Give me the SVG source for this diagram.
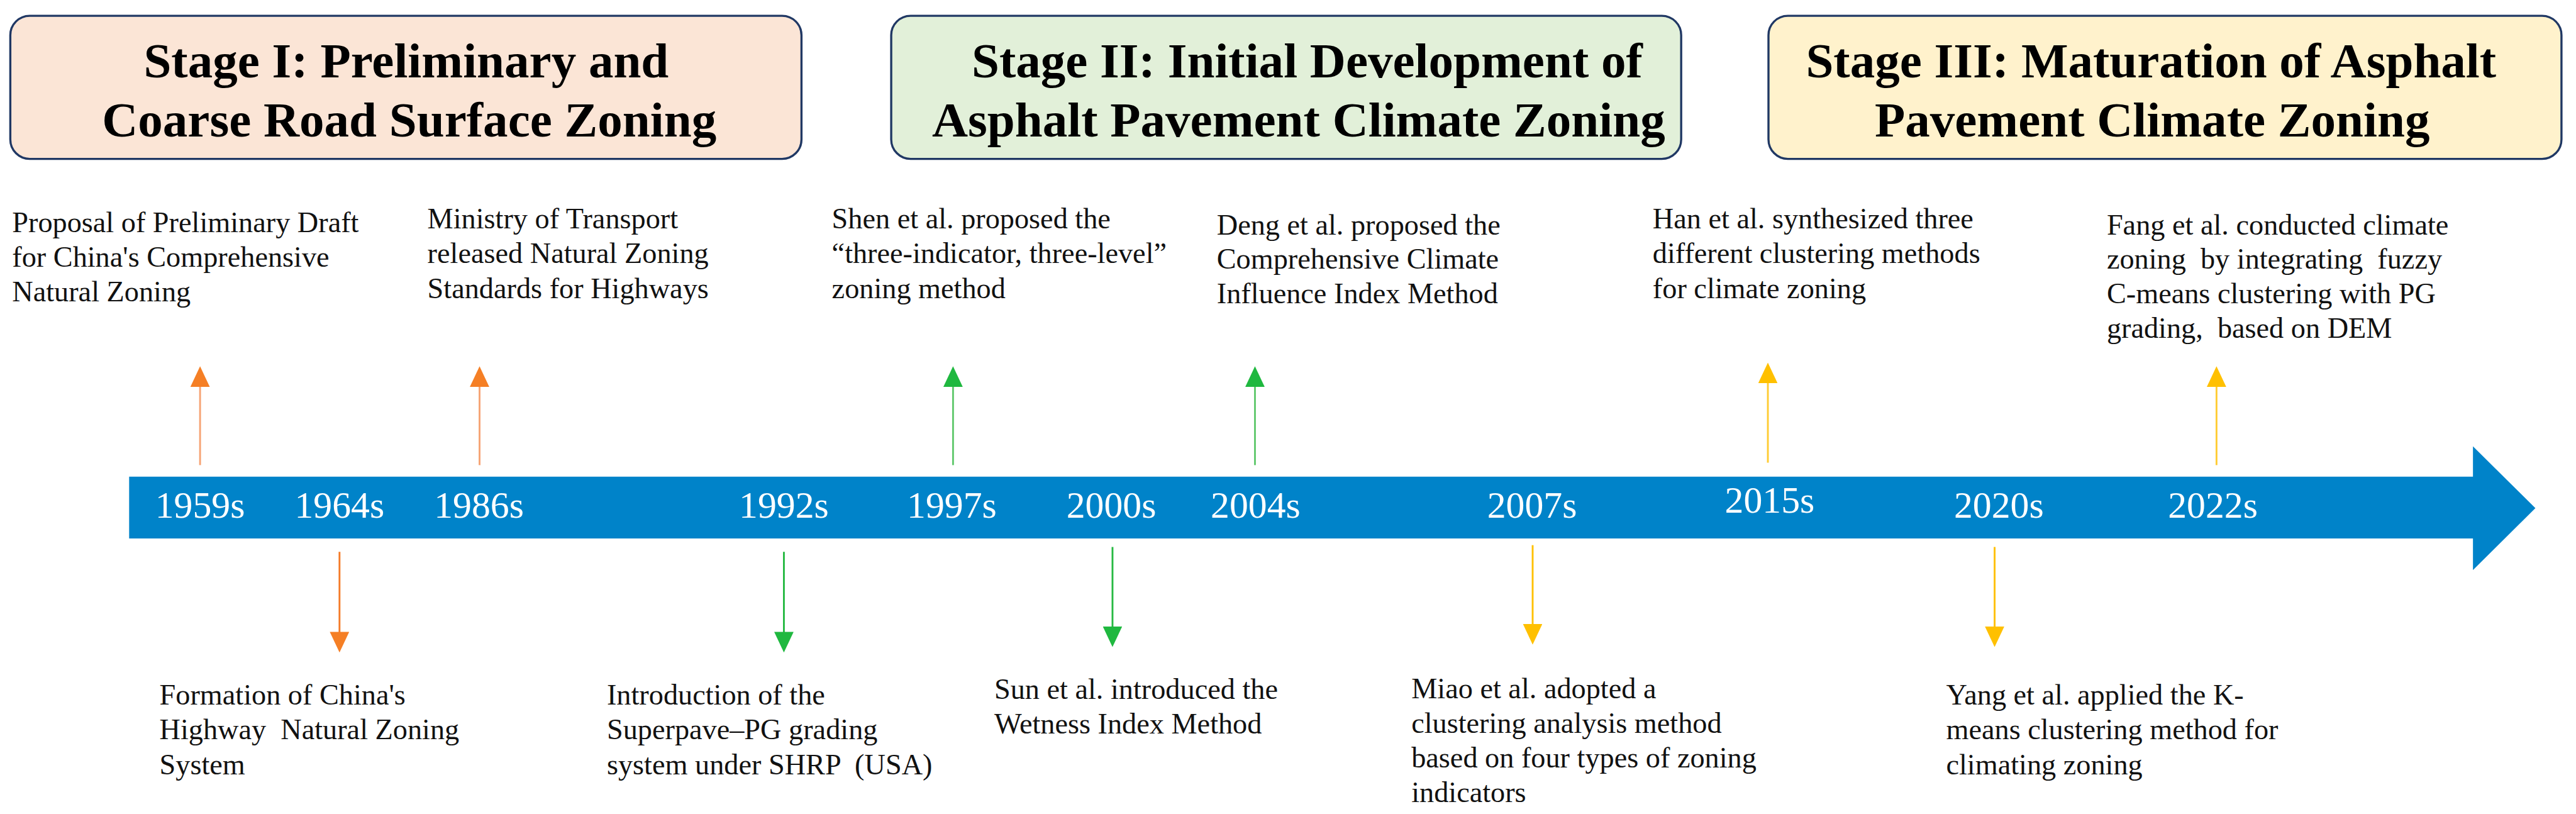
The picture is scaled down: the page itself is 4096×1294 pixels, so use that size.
<svg xmlns="http://www.w3.org/2000/svg" width="4096" height="1294" viewBox="0 0 4096 1294">
<style>
.stage{stroke:#203864;stroke-width:3.5}
.title{font-family:"Liberation Serif","Times New Roman",serif;font-weight:bold;font-size:82px;fill:#000;text-anchor:middle}
.year{font-family:"Liberation Serif","Times New Roman",serif;font-size:62px;fill:#fff;text-anchor:middle}
.ev{font-family:"Liberation Serif","Times New Roman",serif;font-size:48px;fill:#111;white-space:pre}
.lo{stroke:#F6A374;stroke-width:3;fill:none}
.lg{stroke:#62C96E;stroke-width:3;fill:none}
.ly{stroke:#FFCC33;stroke-width:3;fill:none}
.do{stroke:#F47B28;stroke-width:3;fill:none}
.dg{stroke:#27B943;stroke-width:3;fill:none}
.dy{stroke:#FFC000;stroke-width:3;fill:none}
</style>
<defs>
<marker id="hO" markerUnits="userSpaceOnUse" markerWidth="34" markerHeight="32" viewBox="0 0 34 32" refX="2" refY="16" orient="auto"><path d="M0,0 L34,16 L0,32 z" fill="#F57F25"/></marker>
<marker id="hG" markerUnits="userSpaceOnUse" markerWidth="34" markerHeight="32" viewBox="0 0 34 32" refX="2" refY="16" orient="auto"><path d="M0,0 L34,16 L0,32 z" fill="#1FB83F"/></marker>
<marker id="hY" markerUnits="userSpaceOnUse" markerWidth="34" markerHeight="32" viewBox="0 0 34 32" refX="2" refY="16" orient="auto"><path d="M0,0 L34,16 L0,32 z" fill="#FFC000"/></marker>
</defs>
<rect width="4096" height="1294" fill="#fff"/>
<g transform="scale(0.964)">
<g id="stage1">
<rect class="stage" x="17" y="26" width="1305" height="236" rx="32" fill="#FBE5D6"/>
<text class="title"><tspan x="670" y="128">Stage I: Preliminary and</tspan><tspan x="675" y="225">Coarse Road Surface Zoning</tspan></text>
</g>
<g id="stage2">
<rect class="stage" x="1470" y="26" width="1303" height="236" rx="32" fill="#E2F0D9"/>
<text class="title"><tspan x="2156" y="128">Stage II: Initial Development of</tspan><tspan x="2142" y="225">Asphalt Pavement Climate Zoning</tspan></text>
</g>
<g id="stage3">
<rect class="stage" x="2917" y="26" width="1308" height="236" rx="32" fill="#FFF2CC"/>
<text class="title"><tspan x="3548" y="128">Stage III: Maturation of Asphalt</tspan><tspan x="3550" y="225">Pavement Climate Zoning</tspan></text>
</g>
<g id="timeline">
<path d="M213,786 H4079 V736 L4182,838 L4079,940 V888 H213 Z" fill="#0083C9"/>
<text class="year" x="330" y="854">1959s</text>
<text class="year" x="560" y="854">1964s</text>
<text class="year" x="790" y="854">1986s</text>
<text class="year" x="1293" y="854">1992s</text>
<text class="year" x="1570" y="854">1997s</text>
<text class="year" x="1833" y="854">2000s</text>
<text class="year" x="2071" y="854">2004s</text>
<text class="year" x="2527" y="854">2007s</text>
<text class="year" x="2919" y="845">2015s</text>
<text class="year" x="3297" y="854">2020s</text>
<text class="year" x="3650" y="854">2022s</text>
</g>
<g id="connectors">
<line class="lo" x1="330" y1="767" x2="330" y2="636" marker-end="url(#hO)"/>
<line class="lo" x1="791" y1="767" x2="791" y2="636" marker-end="url(#hO)"/>
<line class="lg" x1="1572" y1="767" x2="1572" y2="636" marker-end="url(#hG)"/>
<line class="lg" x1="2070" y1="767" x2="2070" y2="636" marker-end="url(#hG)"/>
<line class="ly" x1="2916" y1="763" x2="2916" y2="630" marker-end="url(#hY)"/>
<line class="ly" x1="3656" y1="767" x2="3656" y2="636" marker-end="url(#hY)"/>
<line class="do" x1="560" y1="910" x2="560" y2="1044" marker-end="url(#hO)"/>
<line class="dg" x1="1293" y1="910" x2="1293" y2="1044" marker-end="url(#hG)"/>
<line class="dg" x1="1835" y1="902" x2="1835" y2="1035" marker-end="url(#hG)"/>
<line class="dy" x1="2528" y1="899" x2="2528" y2="1031" marker-end="url(#hY)"/>
<line class="dy" x1="3290" y1="902" x2="3290" y2="1035" marker-end="url(#hY)"/>
</g>
<g id="ev1959"><text class="ev"><tspan x="20" y="383">Proposal of Preliminary Draft</tspan><tspan x="20" y="440">for China's Comprehensive</tspan><tspan x="20" y="497">Natural Zoning</tspan></text></g>
<g id="ev1986"><text class="ev"><tspan x="705" y="377">Ministry of Transport</tspan><tspan x="705" y="434">released Natural Zoning</tspan><tspan x="705" y="492">Standards for Highways</tspan></text></g>
<g id="ev1997"><text class="ev"><tspan x="1372" y="377">Shen et al. proposed the</tspan><tspan x="1372" y="434">“three-indicator, three-level”</tspan><tspan x="1372" y="492">zoning method</tspan></text></g>
<g id="ev2004"><text class="ev"><tspan x="2007" y="387">Deng et al. proposed the</tspan><tspan x="2007" y="443">Comprehensive Climate</tspan><tspan x="2007" y="500">Influence Index Method</tspan></text></g>
<g id="ev2015"><text class="ev"><tspan x="2726" y="377">Han et al. synthesized three</tspan><tspan x="2726" y="434">different clustering methods</tspan><tspan x="2726" y="492">for climate zoning</tspan></text></g>
<g id="ev2022"><text class="ev"><tspan x="3475" y="387">Fang et al. conducted climate</tspan><tspan x="3475" y="443">zoning  by integrating  fuzzy</tspan><tspan x="3475" y="500">C-means clustering with PG</tspan><tspan x="3475" y="557">grading,  based on DEM</tspan></text></g>
<g id="ev1964"><text class="ev"><tspan x="263" y="1162">Formation of China's</tspan><tspan x="263" y="1219">Highway  Natural Zoning</tspan><tspan x="263" y="1277">System</tspan></text></g>
<g id="ev1992"><text class="ev"><tspan x="1001" y="1162">Introduction of the</tspan><tspan x="1001" y="1219">Superpave–PG grading</tspan><tspan x="1001" y="1277">system under SHRP  (USA)</tspan></text></g>
<g id="ev2000"><text class="ev"><tspan x="1640" y="1153">Sun et al. introduced the</tspan><tspan x="1640" y="1210">Wetness Index Method</tspan></text></g>
<g id="ev2007"><text class="ev"><tspan x="2328" y="1151">Miao et al. adopted a</tspan><tspan x="2328" y="1208">clustering analysis method</tspan><tspan x="2328" y="1266">based on four types of zoning</tspan><tspan x="2328" y="1323">indicators</tspan></text></g>
<g id="ev2020"><text class="ev"><tspan x="3210" y="1162">Yang et al. applied the K-</tspan><tspan x="3210" y="1219">means clustering method for</tspan><tspan x="3210" y="1277">climating zoning</tspan></text></g>
</g>
</svg>
